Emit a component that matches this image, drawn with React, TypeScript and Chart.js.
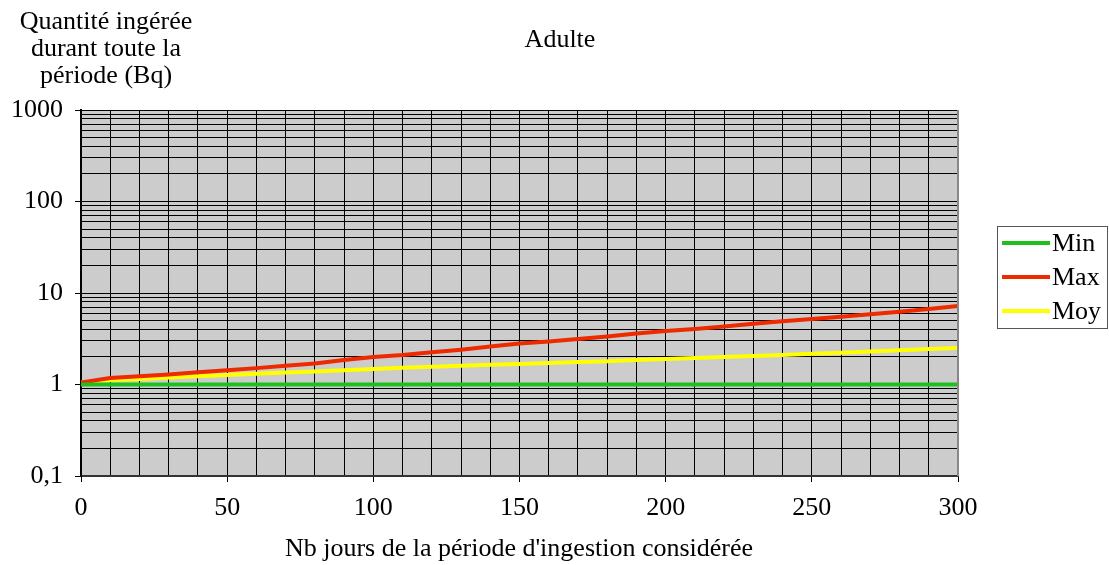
import React, { useEffect, useRef } from "react";
import { Chart, registerables } from "chart.js";

Chart.register(...registerables);

const days = [0, 10, 20, 30, 40, 50, 60, 70, 80, 90, 100, 110, 120, 130, 140, 150, 160, 170, 180, 190, 200, 210, 220, 230, 240, 250, 260, 270, 280, 290, 300];
const minValues = [1.0, 1.0, 1.0, 1.0, 1.0, 1.0, 1.0, 1.0, 1.0, 1.0, 1.0, 1.0, 1.0, 1.0, 1.0, 1.0, 1.0, 1.0, 1.0, 1.0, 1.0, 1.0, 1.0, 1.0, 1.0, 1.0, 1.0, 1.0, 1.0, 1.0, 1.0];
const maxValues = [1.05, 1.18, 1.23, 1.29, 1.36, 1.43, 1.51, 1.6, 1.7, 1.85, 2.0, 2.1, 2.25, 2.4, 2.6, 2.8, 2.95, 3.15, 3.35, 3.6, 3.85, 4.05, 4.3, 4.6, 4.9, 5.2, 5.5, 5.85, 6.25, 6.7, 7.2];
const moyValues = [1.05, 1.12, 1.15, 1.19, 1.23, 1.27, 1.31, 1.35, 1.39, 1.43, 1.48, 1.52, 1.56, 1.6, 1.64, 1.68, 1.72, 1.76, 1.8, 1.85, 1.9, 1.95, 2.0, 2.05, 2.1, 2.17, 2.23, 2.3, 2.37, 2.44, 2.5];
const seriesNames = ["Min", "Max", "Moy"];
const seriesColors = ["#1ec01e", "#ee2a00", "#ffff00"];
const decades = [0.1, 1, 10, 100, 1000];
const yTitleLines = ["Quantité ingérée", "durant toute la", "période (Bq)"];
const chartTitle = "Adulte";
const xTitle = "Nb jours de la période d'ingestion considérée";

const FONT = "'Liberation Serif', 'Times New Roman', serif";
const FS = 26;

export default function App() {
  const ref = useRef<HTMLCanvasElement>(null);
  useEffect(() => {
    document.body.style.margin = "0";
    const canvas = ref.current!;
    const bgPlugin = {
      id: "bg",
      beforeDraw(chart: any) {
        const { ctx, chartArea } = chart;
        ctx.save();
        ctx.fillStyle = "#cccccc";
        ctx.fillRect(chartArea.left, chartArea.top, chartArea.right - chartArea.left, chartArea.bottom - chartArea.top);
        ctx.restore();
      },
      afterDraw(chart: any) {
        const { ctx, chartArea } = chart;
        ctx.save();
        ctx.fillStyle = "#000";
        ctx.font = `${FS}px ${FONT}`;
        ctx.textAlign = "center";
        ctx.textBaseline = "middle";
        yTitleLines.forEach((l, i) => ctx.fillText(l, 106, 22 + i * 27));
        ctx.fillText(chartTitle, 560, 40);
        ctx.fillText(xTitle, 519, 549);
        // right border
        ctx.strokeStyle = "#888";
        ctx.lineWidth = 2;
        ctx.beginPath();
        ctx.moveTo(chartArea.right, chartArea.top);
        ctx.lineTo(chartArea.right, chartArea.bottom);
        ctx.stroke();
        // legend
        ctx.strokeStyle = "#555";
        ctx.lineWidth = 1;
        ctx.strokeRect(997.5, 226.5, 110, 102);
        seriesNames.forEach((n, i) => {
          const y = 243 + i * 34;
          ctx.strokeStyle = seriesColors[i];
          ctx.lineWidth = 4;
          ctx.beginPath();
          ctx.moveTo(1002, y);
          ctx.lineTo(1050, y);
          ctx.stroke();
          ctx.fillStyle = "#000";
          ctx.textAlign = "left";
          ctx.fillText(n, 1052, y + 1);
        });
        ctx.restore();
      },
    };
    const values = [minValues, maxValues, moyValues];
    const chart = new Chart(canvas, {
      type: "line",
      data: {
        labels: days,
        datasets: seriesNames.map((n, i) => ({
          label: n,
          data: days.map((d, j) => ({ x: d, y: values[i][j] })),
          borderColor: seriesColors[i],
          borderWidth: 4,
          pointRadius: 0,
          tension: 0,
          fill: false,
        })),
      },
      options: {
        animation: false,
        responsive: false,
        layout: { padding: { left: 0, right: 151, top: 110, bottom: 0 } },
        plugins: { legend: { display: false }, title: { display: false }, tooltip: { enabled: false } },
        scales: {
          x: {
            type: "linear",
            min: 0,
            max: 300,
            afterBuildTicks(scale: any) {
              const t = [];
              for (let v = 0; v <= 300; v += 10) t.push({ value: v });
              scale.ticks = t;
            },
            afterFit(scale: any) {
              scale.height = 89;
            },
            ticks: {
              autoSkip: false,
              maxRotation: 0,
              padding: 11,
              color: "#000",
              font: { family: FONT, size: FS },
              callback: (v: any) => (Number(v) % 50 === 0 ? String(v) : ""),
            },
            grid: {
              color: "#000",
              lineWidth: 1,
              tickLength: 6,
              tickColor: (c: any) => (c.tick && c.tick.value % 50 === 0 ? "#000" : "rgba(0,0,0,0)"),
            },
            border: { color: "#333", width: 2 },
          },
          y: {
            type: "logarithmic",
            min: 0.1,
            max: 1000,
            afterBuildTicks(scale: any) {
              const t = [];
              for (let e = -1; e < 3; e++) {
                for (let m = 1; m < 10; m++) t.push({ value: m * Math.pow(10, e) });
              }
              t.push({ value: 1000 });
              scale.ticks = t;
            },
            afterFit(scale: any) {
              scale.width = 81;
            },
            ticks: {
              autoSkip: false,
              padding: 12,
              color: "#000",
              font: { family: FONT, size: FS },
              callback: (v: any) => {
                const n = Number(v);
                const d = decades.find((x) => Math.abs(x - n) < 1e-9);
                return d === undefined ? "" : String(d).replace(".", ",");
              },
            },
            grid: {
              color: "#000",
              lineWidth: 1,
              tickLength: 6,
              tickColor: (c: any) =>
                c.tick && decades.some((x) => Math.abs(x - c.tick.value) < 1e-9) ? "#000" : "rgba(0,0,0,0)",
            },
            border: { color: "#000", width: 2 },
          },
        },
      },
      plugins: [bgPlugin],
    } as any);
    return () => chart.destroy();
  }, []);
  return (
    <div style={{ width: 1109, height: 565, background: "#fff" }}>
      <canvas ref={ref} width={1109} height={565} style={{ display: "block" }} />
    </div>
  );
}
